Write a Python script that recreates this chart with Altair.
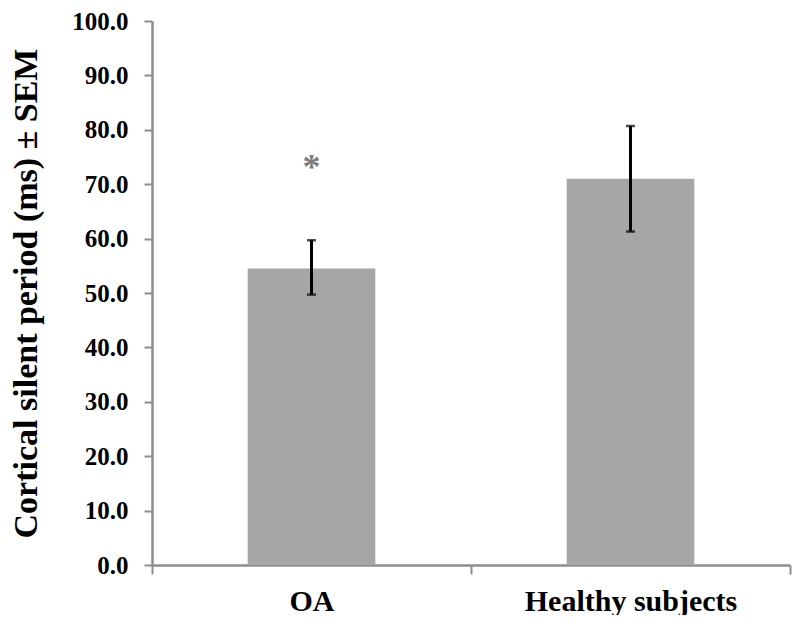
import altair as alt
import pandas as pd

groups = ["OA", "Healthy subjects"]
means = [54.5, 71.0]
lows = [49.7, 61.3]
highs = [59.7, 80.7]
star_group = ["OA"]
star_y = [74.5]

df = pd.DataFrame({"group": groups, "mean": means, "lo": lows, "hi": highs})
sdf = pd.DataFrame({"group": star_group, "y": star_y, "t": ["*"]})

FONT = "Liberation Serif"
xscale = alt.Scale(domain=groups, paddingInner=0, paddingOuter=0)
yscale = alt.Scale(domain=[0, 100], nice=False)

x = alt.X("group:N", scale=xscale, sort=groups, title=None,
          axis=alt.Axis(labelAngle=0, labelFont=FONT, labelFontSize=30, labelFontWeight="bold",
                        labelColor="black", labelPadding=12, labelLimit=0, tickBand="extent", tickSize=9,
                        tickColor="#8c8c8c", tickWidth=2, domainColor="#8c8c8c", domainWidth=2.5))

bars = alt.Chart(df).mark_bar(color="#a6a6a6", width={"band": 0.4}).encode(
    x=x,
    y=alt.Y("mean:Q", scale=yscale,
            title="Cortical silent period  (ms) ± SEM",
            axis=alt.Axis(values=list(range(0, 101, 10)), format=".1f", grid=False,
                          labelFont=FONT, labelFontSize=25, labelFontWeight="bold", labelColor="black",
                          labelPadding=16, tickSize=8, tickColor="#8c8c8c", tickWidth=2,
                          domainColor="#8c8c8c", domainWidth=2.5,
                          titleFont=FONT, titleFontSize=34, titleFontWeight="bold", titleColor="black",
                          titlePadding=28)),
)

rules = alt.Chart(df).mark_rule(color="black", strokeWidth=3).encode(
    x=alt.X("group:N", scale=xscale, sort=groups), y="lo:Q", y2="hi:Q")

caps_lo = alt.Chart(df).mark_tick(color="black", size=9, thickness=2.5, orient="horizontal").encode(
    x=alt.X("group:N", scale=xscale, sort=groups), y="lo:Q")
caps_hi = alt.Chart(df).mark_tick(color="black", size=9, thickness=2.5, orient="horizontal").encode(
    x=alt.X("group:N", scale=xscale, sort=groups), y="hi:Q")

star = alt.Chart(sdf).mark_text(font=FONT, fontSize=36, fontWeight="bold", color="#7a7a7a",
                                baseline="middle", dy=8).encode(
    x=alt.X("group:N", scale=xscale, sort=groups), y="y:Q", text="t:N")

chart = alt.layer(bars, rules, caps_lo, caps_hi, star).properties(
    width=638, height=544,
    autosize=alt.AutoSizeParams(type="none"),
    padding={"left": 144, "top": 13, "right": 2, "bottom": 50},
).configure_view(stroke=None)

chart.save("out.html", embed_options={"renderer": "svg", "actions": False})
